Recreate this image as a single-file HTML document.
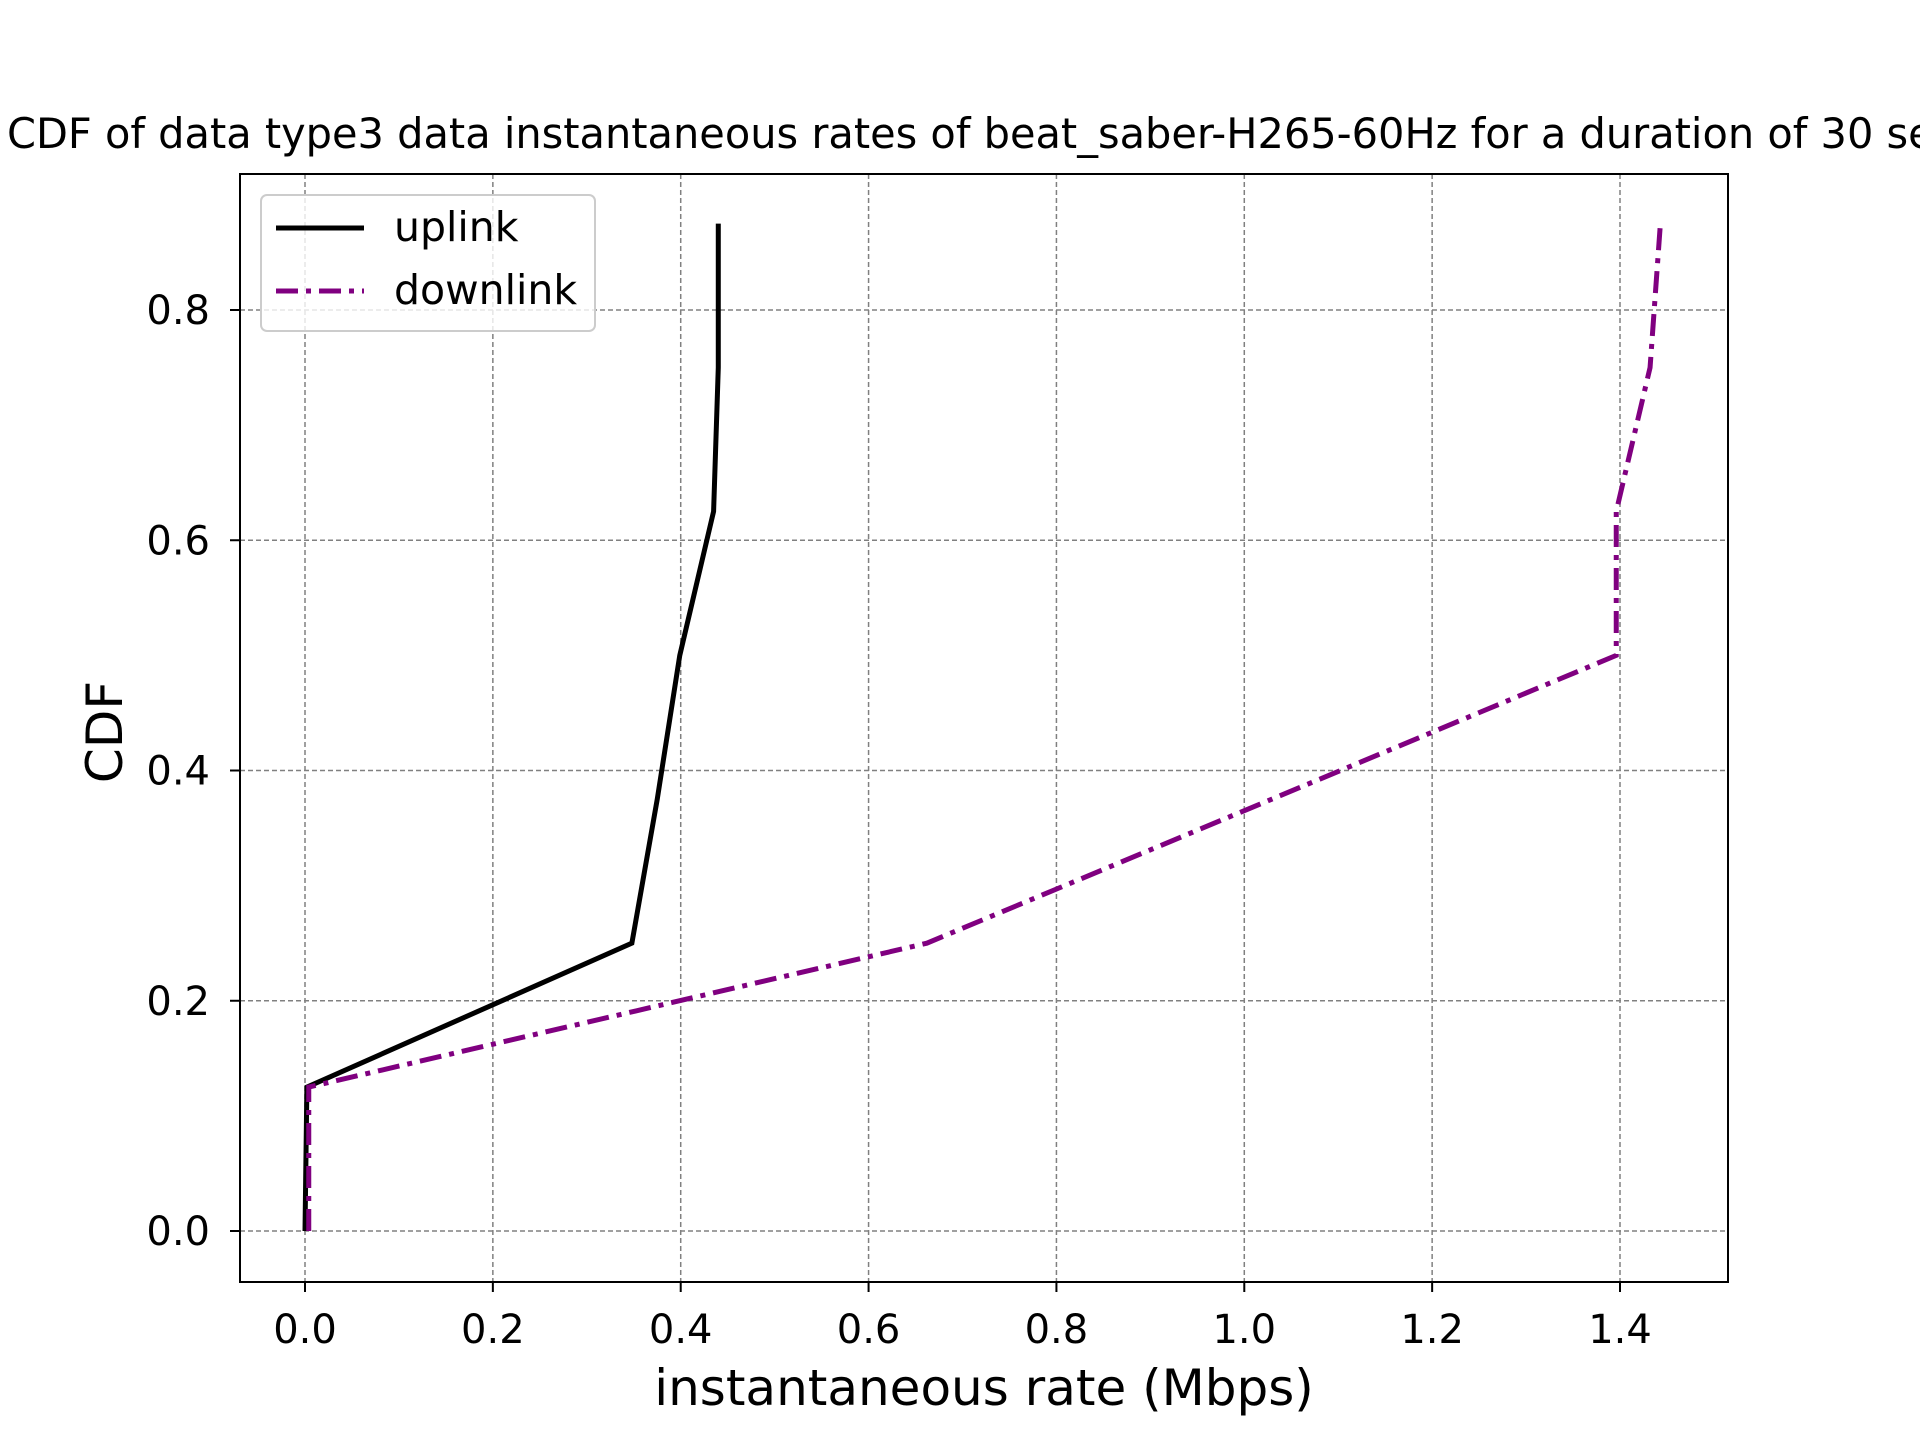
<!DOCTYPE html>
<html><head><meta charset="utf-8"><style>body{margin:0;background:#fff}svg{display:block}text{font-family:"DejaVu Sans","Liberation Sans",sans-serif}</style></head>
<body>
<svg id="chart" width="1920" height="1440" viewBox="0 0 1920 1440" xmlns="http://www.w3.org/2000/svg">
<rect width="1920" height="1440" fill="#fff"/>
<text x="7" y="148" font-size="41.5" text-anchor="start">CDF of data type3 data instantaneous rates of beat_saber-H265-60Hz for a duration of 30 seconds</text>
<g id="grid"></g><g id="ticks"></g><g id="series"></g>
<rect x="240" y="174" width="1488" height="1108" fill="none" stroke="#000" stroke-width="2"/>
<text x="984" y="1405" font-size="50" text-anchor="middle">instantaneous rate (Mbps)</text>
<text x="122" y="732" font-size="50" text-anchor="middle" transform="rotate(-90 122 732)">CDF</text>
<g>
<rect x="261" y="195" width="334" height="136" rx="6" fill="#fff" fill-opacity="0.8" stroke="#ccc" stroke-width="2"/>
<line x1="276" y1="228" x2="364" y2="228" stroke="#000" stroke-width="5"/>
<text x="394" y="241" font-size="41">uplink</text>
<line x1="276" y1="291" x2="364" y2="291" stroke="#800080" stroke-width="5" stroke-dasharray="22,8,5,8"/>
<text x="394" y="304" font-size="41">downlink</text>
</g>
</svg>
<script>
const xTicks=[0,0.2,0.4,0.6,0.8,1.0,1.2,1.4];
const yTicks=[0,0.2,0.4,0.6,0.8];
const uplinkX=[0,0.002,0.348,0.375,0.399,0.435,0.44,0.44];
const uplinkY=[0,0.125,0.25,0.375,0.5,0.625,0.75,0.875];
const downlinkX=[0.004,0.004,0.662,1.029,1.396,1.396,1.432,1.443];
const downlinkY=[0,0.125,0.25,0.375,0.5,0.625,0.75,0.875];
const NS='http://www.w3.org/2000/svg';
const sx=v=>305+v*(1620-305)/1.4;
const sy=v=>1231-v*(1231-310)/0.8;
function mk(t,a,p){const e=document.createElementNS(NS,t);for(const k in a)e.setAttribute(k,a[k]);p.appendChild(e);return e;}
const g=document.getElementById('grid'),tk=document.getElementById('ticks'),s=document.getElementById('series');
xTicks.forEach(v=>{const x=sx(v);
 const l=mk('line',{x1:x,x2:x,y1:174,y2:1282,stroke:'#808080','stroke-width':1.5,'stroke-dasharray':'5,3'},g);
 
 mk('line',{x1:x,x2:x,y1:1282,y2:1292,stroke:'#000','stroke-width':2},tk);
 const t=mk('text',{x:x,y:1343,'font-size':40,'text-anchor':'middle'},tk);t.textContent=v.toFixed(1);
 });
yTicks.forEach(v=>{const y=sy(v);
 const l=mk('line',{x1:240,x2:1728,y1:y,y2:y,stroke:'#808080','stroke-width':1.5,'stroke-dasharray':'5,3'},g);
 
 mk('line',{x1:230,x2:240,y1:y,y2:y,stroke:'#000','stroke-width':2},tk);
 const t=mk('text',{x:210,y:y+14,'font-size':40,'text-anchor':'end'},tk);t.textContent=v.toFixed(1);
 });
function line(xs,ys,attrs,name){const p=mk('polyline',Object.assign({points:xs.map((x,i)=>sx(x)+','+sy(ys[i])).join(' '),fill:'none','stroke-width':5},attrs),s);
 }
line(uplinkX,uplinkY,{stroke:'#000'},'uplink-line');
line(downlinkX,downlinkY,{stroke:'#800080','stroke-dasharray':'22,8,5,8'},'downlink-line');
</script>
</body></html>
